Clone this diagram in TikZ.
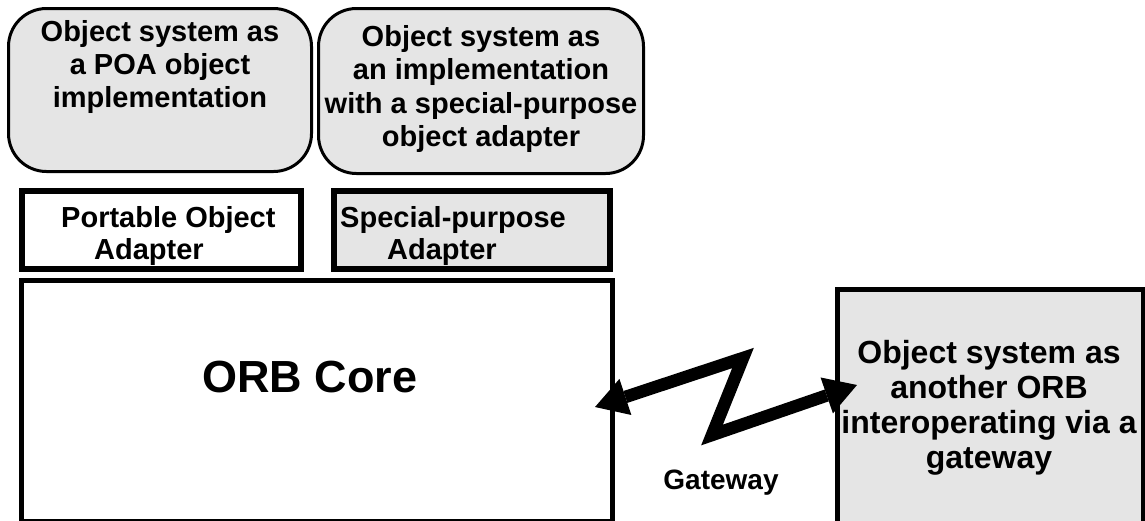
\documentclass[tikz,border=0pt]{standalone}
\usepackage{fontspec}
\setmainfont{Liberation Sans}
\usetikzlibrary{arrows.meta}
\definecolor{boxgray}{gray}{0.9}
\tikzset{
  objsys/.style={draw, line width=3pt, fill=boxgray, rounded corners=38pt, inner sep=0pt},
  adapterbox/.style={draw, line width=6pt, inner sep=0pt},
  corebox/.style={draw, line width=5pt, inner sep=0pt},
  boxtext/.style={font=\bfseries\fontsize{29}{33}\selectfont, align=center, inner sep=0pt},
  gwtip/.tip={Triangle[length=32pt, width=38pt, line width=0pt]},
}

\begin{document}
\begin{tikzpicture}[x=1pt, y=-1pt]
    \useasboundingbox (0,0) rectangle (1145,520);
    \clip (0,0) rectangle (1145,520);

    % Draw the boxes
    \node[objsys, minimum width=303pt, minimum height=163pt] (poaobj) at (160,90) {};
    \node[objsys, minimum width=325pt, minimum height=165pt] (spobj) at (481,91) {};
    \node[adapterbox, minimum width=279pt, minimum height=78pt] (poa) at (161.5,230) {};
    \node[adapterbox, fill=boxgray, minimum width=276pt, minimum height=78pt] (spa) at (472,230) {};
    \node[corebox, minimum width=591pt, minimum height=241pt] (core) at (317,400.5) {};
    \node[corebox, fill=boxgray, minimum width=306pt, minimum height=251pt] (orb) at (990.5,414.75) {};

    % Labels
    \node[boxtext, font=\bfseries\fontsize{29}{33}\selectfont] (poaobjtext) at (160,67)
        {Object system as\\a POA object\\implementation};
    \node[boxtext, font=\bfseries\fontsize{29}{33.5}\selectfont] (spobjtext) at (481,89)
        {Object system as\\an implementation\\with a special-purpose\\object adapter};
    \node[boxtext, align=left, anchor=west, font=\bfseries\fontsize{29}{31.5}\selectfont] (poatext) at (61,236)
        {Portable Object\\\hspace*{33pt}Adapter};
    \node[boxtext, align=left, anchor=west, font=\bfseries\fontsize{29}{31.5}\selectfont] (spatext) at (340,236)
        {Special-purpose\\\hspace*{47pt}Adapter};
    \node[boxtext, anchor=base, font=\bfseries\fontsize{45}{50}\selectfont] (coretext) at (310,392) {ORB Core};
    \node[boxtext, font=\bfseries\fontsize{32}{35}\selectfont] (orbtext) at (989,408)
        {Object system as\\another ORB\\interoperating via a\\gateway};
    \node[boxtext, anchor=base, font=\bfseries\fontsize{28}{34}\selectfont] (gwtext) at (721,489) {Gateway};

    % Gateway link
    \coordinate (gwL) at (595,407);
    \coordinate (gwA) at (743,358);
    \coordinate (gwB) at (712,435);
    \coordinate (gwR) at (857,385);
    \draw[line width=12.5pt, line join=miter, gwtip-gwtip] (gwL) -- (gwA) -- (gwB) -- (gwR);
\end{tikzpicture}
\end{document}
